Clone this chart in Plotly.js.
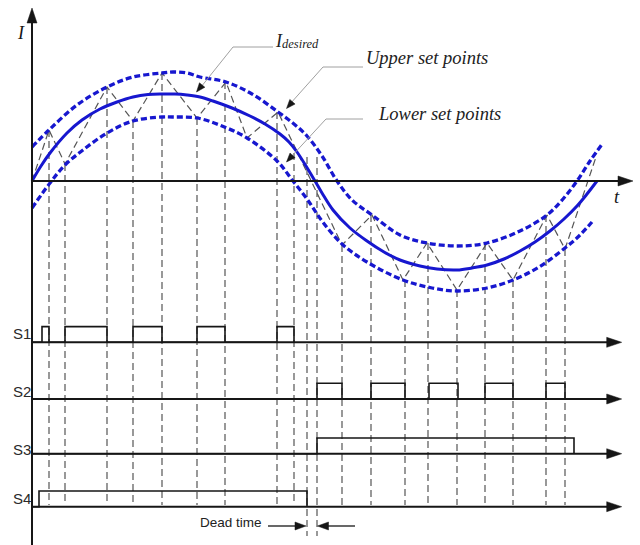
<!DOCTYPE html>
<html><head><meta charset="utf-8">
<script src="https://cdn.plot.ly/plotly-3.0.1.min.js"></script>
<style>html,body{margin:0;padding:0;background:#fff;}#chart{width:640px;height:545px;}</style>
</head><body><div id="chart"></div>
<script>
// ---- data (t in arbitrary time units, I in arbitrary current units) ----
const solidT = [0, 9, 18, 35, 50, 68, 85, 101, 116, 131, 143, 155, 168, 181, 200, 218, 233, 248, 257, 265, 274, 283,
                290, 301, 318, 335, 352, 368, 388, 405, 425, 440, 455, 472, 488, 503, 518, 532, 545, 555, 565];
const solidI = [0, 15, 28, 48, 61, 72, 79, 84, 86.5, 87, 87, 86, 84, 80, 73, 65, 57, 47, 39, 29, 15, 0,
                -12, -29, -47, -60, -71, -79, -85, -88, -89, -87, -84, -78, -70, -61, -50, -38, -25, -13, 0];
const upperT = [0, 17, 45, 75, 101, 130, 141, 155, 168, 194, 220, 246, 262, 275, 290, 305, 320, 340, 368, 395, 425, 455, 488, 515, 531, 545, 558, 571];
const upperI = [34, 51, 76, 94, 104, 108, 109, 108, 104, 99, 87, 69, 57, 45, 25, 0, -19, -34, -54, -62, -65, -62, -50, -34, -18, 0, 20, 38];
const lowerT = [0, 18, 33, 51, 75, 101, 130, 141, 165, 190, 215, 245, 261, 275, 290, 310, 335, 371, 400, 425, 455, 481, 507, 533, 547, 560];
const lowerI = [-27, -2, 16, 31, 48, 60, 64, 64, 63, 55, 43, 20, 0, -18, -40, -63, -81, -99, -107, -110, -107, -99, -86, -67, -55, -41];
const zigT = [0, 17, 33, 75, 101, 130, 165, 194, 215, 246, 310, 340, 371, 395, 425, 455, 481, 515, 533, 564];
const zigI = [0, 51, 17, 94, 60, 108, 63, 99, 43, 69, -64, -34, -99, -62, -109, -62, -99, -34, -68, 24];
const switchT   = [17, 33, 75, 101, 130, 165, 193, 245, 262, 275, 285, 310, 339, 373, 396, 425, 453, 481, 514, 533];
const switchTop = [51, 17, 94, 60, 108, 63, 99, 69, 28, 24, 24, -64, -34, -99, -62, -109, -62, -99, -34, -68];
const deadTimeEdges = [275, 285];
const s1Rise = [10, 33, 101, 165, 245];
const s1Fall = [17, 75, 130, 193, 262];
const s2Rise = [285, 339, 397, 453, 514];
const s2Fall = [310, 373, 426, 481, 533];
const s3Rise = [285];
const s3Fall = [542];
const s4Rise = [7];
const s4Fall = [275];
const signalNames = ['S1', 'S2', 'S3', 'S4'];

// ---- geometry (layout only) ----
const W = 640, H = 545, X0 = 32, Y0 = 181;
const sBase = [342.3, 399, 453.7, 506.7];
const U = 15.7;
const BLUE = '#1717cf', GRAY = '#555555', INK = '#161616';
const pX = px => px / W, pY = py => 1 - py / H;
const iFromPx = py => Y0 - py;

const traces = [];
traces.push({x: zigT, y: zigI, mode: 'lines', line: {color: GRAY, width: 1.2, dash: '7px,4px'}, hoverinfo: 'skip'});
const vx = [], vy = [];
switchT.forEach((t, i) => {
  const bottom = deadTimeEdges.includes(t) ? iFromPx(536) : iFromPx(505);
  vx.push(t, t, null); vy.push(switchTop[i], bottom, null);
});
traces.push({x: vx, y: vy, mode: 'lines', line: {color: GRAY, width: 1.2, dash: '7px,4px'}, hoverinfo: 'skip'});
traces.push({x: upperT, y: upperI, mode: 'lines', line: {color: BLUE, width: 3.3, dash: '6px,3px', shape: 'spline'}, hoverinfo: 'skip'});
traces.push({x: lowerT, y: lowerI, mode: 'lines', line: {color: BLUE, width: 3.3, dash: '6px,3px', shape: 'spline'}, hoverinfo: 'skip'});
traces.push({x: solidT, y: solidI, mode: 'lines', line: {color: BLUE, width: 3, shape: 'spline'}, hoverinfo: 'skip'});
function stepXY(rise, fall) {
  const x = [0], y = [0];
  rise.forEach((r, i) => { x.push(r, r, fall[i], fall[i]); y.push(0, 1, 1, 0); });
  return {x, y};
}
[[s1Rise, s1Fall], [s2Rise, s2Fall], [s3Rise, s3Fall], [s4Rise, s4Fall]].forEach((p, k) => {
  const s = stepXY(p[0], p[1]);
  traces.push({x: s.x, y: s.y, xaxis: 'x', yaxis: 'y' + (k + 2), mode: 'lines',
    line: {color: INK, width: 1.6}, hoverinfo: 'skip'});
});

// ---- decorations ----
const shapes = [];
function seg(x0, y0, x1, y1, color, width) {
  shapes.push({type: 'line', xref: 'paper', yref: 'paper', x0: pX(x0), y0: pY(y0), x1: pX(x1), y1: pY(y1),
    line: {color: color, width: width}});
}
function head(tipX, tipY, fromX, fromY, len, hw, color) {
  const dx = tipX - fromX, dy = tipY - fromY, d = Math.hypot(dx, dy);
  const ux = dx / d, uy = dy / d, bx = tipX - ux * len, by = tipY - uy * len;
  const ax = bx - uy * hw, ay = by + ux * hw, cx = bx + uy * hw, cy = by - ux * hw;
  shapes.push({type: 'path', xref: 'paper', yref: 'paper',
    path: `M${pX(tipX)},${pY(tipY)} L${pX(ax)},${pY(ay)} L${pX(cx)},${pY(cy)} Z`,
    fillcolor: color, line: {color: color, width: 0.5}});
}
seg(X0, 20, X0, 545, INK, 2);
head(X0, 8, X0, 30, 15, 5, INK);
seg(X0, Y0, 622, Y0, INK, 2);
head(633, Y0, 600, Y0, 15, 5, INK);
sBase.forEach(yb => { seg(X0, yb, 610, yb, INK, 2); head(621.7, yb, 590, yb, 15, 5, INK); });
const LG = '#a0a0a0';
seg(273, 47, 233, 47, LG, 1); seg(233, 47, 201, 87, LG, 1); head(196.5, 92, 233, 47, 9, 3.5, INK);
seg(363, 67, 323, 67, LG, 1); seg(323, 67, 290, 104, LG, 1); head(286.5, 108.5, 323, 67, 9, 3.5, INK);
seg(363, 119, 326, 119, LG, 1); seg(326, 119, 290, 158, LG, 1); head(286.5, 162, 326, 119, 9, 3.5, INK);
seg(268, 526, 296, 526, INK, 1.3); head(306, 526, 268, 526, 11, 4, INK);
seg(355, 526, 327, 526, INK, 1.3); head(317.5, 526, 355, 526, 11, 4, INK);

// ---- annotations ----
const SERIF = 'Liberation Serif, Times New Roman, serif';
const SANS = 'Liberation Sans, Arial, sans-serif';
const ann = [];
function txt(text, x, y, size, family, xanchor, color) {
  ann.push({text: text, xref: 'paper', yref: 'paper', x: pX(x), y: pY(y), xanchor: xanchor || 'center', yanchor: 'middle',
    showarrow: false, font: {family: family, size: size, color: color || INK}});
}
txt('<i>I</i>', 21, 33, 18, SERIF);
txt('<i>t</i>', 617, 197, 18.5, SERIF);
txt('<i>I</i>', 273, 41, 18, SERIF, 'left', '#222');
txt('<i>desired</i>', 280, 44, 12.5, SERIF, 'left', '#222');
txt('<i>Upper set points</i>', 364, 58.5, 18.5, SERIF, 'left', '#222');
txt('<i>Lower set points</i>', 376, 113.5, 18.5, SERIF, 'left', '#222');
signalNames.forEach((n, k) => txt(n, 32.5, [333.8, 391, 449, 498.3][k], 15, SANS, 'right', '#2a2a2a'));
txt('Dead time', 198, 522, 13.5, SANS, 'left', '#222');

const layout = {
  width: W, height: H, margin: {l: 0, r: 0, t: 0, b: 0},
  paper_bgcolor: '#ffffff', plot_bgcolor: 'rgba(0,0,0,0)', showlegend: false,
  xaxis: {range: [-X0, W - X0], visible: false, fixedrange: true},
  yaxis: {domain: [0, 1], range: [Y0 - H, Y0], visible: false, fixedrange: true},
  shapes: shapes, annotations: ann
};
sBase.forEach((yb, k) => {
  layout['yaxis' + (k + 2)] = {domain: [1 - (yb + U) / H, 1 - (yb - 2 * U) / H], range: [-1, 2],
    visible: false, fixedrange: true, anchor: 'x'};
});
Plotly.newPlot('chart', traces, layout, {displayModeBar: false, staticPlot: true});
</script></body></html>
